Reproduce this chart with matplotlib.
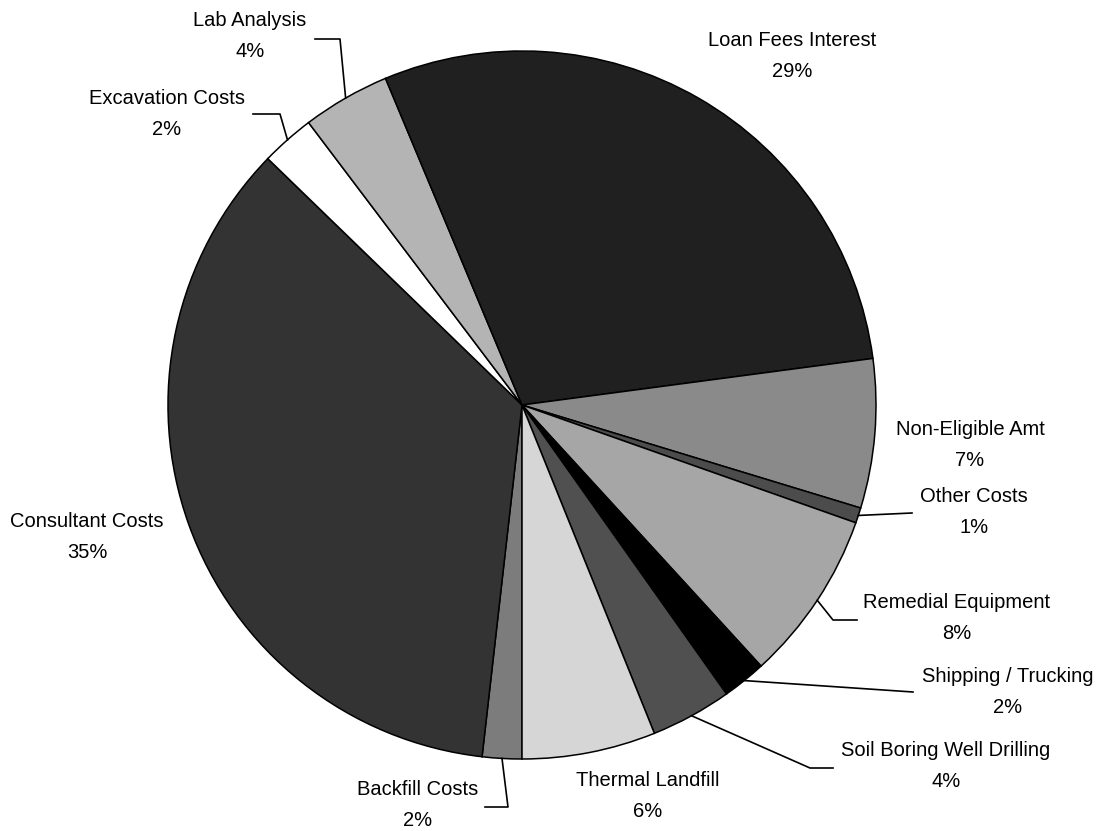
import numpy as np
import matplotlib.pyplot as plt

plt.rcParams['font.family'] = ['Liberation Sans', 'DejaVu Sans']

# cost breakdown (percent of total), alphabetical order, drawn clockwise
categories = ['Backfill Costs', 'Consultant Costs', 'Excavation Costs', 'Lab Analysis',
              'Loan Fees Interest', 'Non-Eligible Amt', 'Other Costs', 'Remedial Equipment',
              'Shipping / Trucking', 'Soil Boring Well Drilling', 'Thermal Landfill']
shares = [1.8, 35.45, 2.45, 4.0, 29.2, 6.8, 0.7, 7.8, 2.0, 3.7, 6.1]
pct_labels = ['2%', '35%', '2%', '4%', '29%', '7%', '1%', '8%', '2%', '4%', '6%']

grays = ['#7c7c7c', '#333333', '#ffffff', '#b4b4b4', '#202020', '#8a8a8a',
         '#4c4c4c', '#a6a6a6', '#000000', '#505050', '#d6d6d6']

# pixel geometry of the picture
W, H = 1104, 831
CX, CY, R = 522, 405, 354


def px(x, y):
    return (x - CX) / R, (CY - y) / R


# label centres (pixels) and leader elbows (pixels, from pie edge outward)
label_pos = [(418, 805), (87, 537), (167, 114), (250, 36), (792, 56), (970, 445),
             (974, 512), (957, 618), (1008, 692), (946, 766), (648, 796)]
leaders = {
    0: [(508, 807), (485, 807)],
    2: [(280, 114), (253, 114)],
    3: [(340, 39), (315, 39)],
    6: [(912, 513)],
    7: [(833, 620), (857, 620)],
    8: [(913, 692)],
    9: [(810, 768), (833, 768)],
}

fig = plt.figure(figsize=(W / 100, H / 100), dpi=100)
ax = fig.add_axes([0, 0, 1, 1])

wedges, _ = ax.pie(shares, colors=grays, startangle=270.0, counterclock=False,
                   radius=1, center=(0, 0),
                   wedgeprops=dict(edgecolor='black', linewidth=1.1))

for i, (name, pct) in enumerate(zip(categories, pct_labels)):
    tx, ty = px(*label_pos[i])
    ax.text(tx, ty, f'{name}\n{pct}', ha='center', va='center', fontsize=14.5,
            linespacing=1.75, color='black')
    if i in leaders:
        w = wedges[i]
        mid = np.deg2rad((w.theta1 + w.theta2) / 2)
        xs = [np.cos(mid)]
        ys = [np.sin(mid)]
        for p in leaders[i]:
            lx, ly = px(*p)
            xs.append(lx)
            ys.append(ly)
        ax.plot(xs, ys, color='black', linewidth=1.2)

x0, y0 = px(0, H)
x1, y1 = px(W, 0)
ax.set_xlim(x0, x1)
ax.set_ylim(y0, y1)
ax.set_aspect('auto')
ax.set_axis_off()

fig.savefig('out.png', dpi=100, facecolor='white')
